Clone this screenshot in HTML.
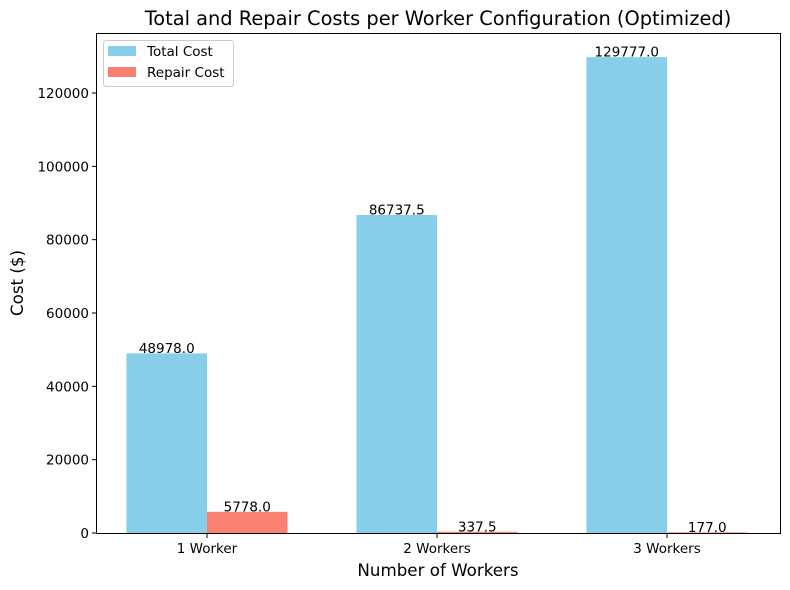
<!DOCTYPE html>
<html><head><meta charset="utf-8"><style>
body{margin:0;background:#fff}
svg{display:block;font-family:"DejaVu Sans","Liberation Sans",sans-serif}
</style></head><body>
<svg id="chart" width="790" height="590">
<text x="438" y="25" font-size="19.4" text-anchor="middle">Total and Repair Costs per Worker Configuration (Optimized)</text>
<text x="438" y="576" font-size="16.7" text-anchor="middle">Number of Workers</text>
<text transform="translate(23,283) rotate(-90)" font-size="16.7" text-anchor="middle">Cost ($)</text>
<g id="marks"></g>
<rect x="96.5" y="33.5" width="684" height="500" fill="none" stroke="#000" stroke-width="1"/>
<g>
<rect x="103.5" y="40.5" width="130" height="46" rx="3" fill="#fff" stroke="#ccc"/>
<rect x="108" y="46" width="28" height="10" fill="#87CEEB"/>
<text x="147" y="56" font-size="13.5">Total Cost</text>
<rect x="108" y="67" width="28" height="10" fill="#FA8072"/>
<text x="147" y="77" font-size="13.5">Repair Cost</text>
</g>
</svg>
<script>
const categories=["1 Worker","2 Workers","3 Workers"];
const totalCost=[48978.0,86737.5,129777.0];
const repairCost=[5778.0,337.5,177.0];
const yTicks=[0,20000,40000,60000,80000,100000,120000];
const NS="http://www.w3.org/2000/svg";
const g=document.getElementById("marks");
const y=v=>533-v*440/120000;
const x=i=>207+230*i;
const bw=80.5;
function mk(t,a){const e=document.createElementNS(NS,t);for(const k in a)e.setAttribute(k,a[k]);g.appendChild(e);return e;}
yTicks.forEach(v=>{
 const l=mk("line",{x1:92,x2:96.5,y1:y(v),y2:y(v),stroke:"#000"});
 
 
 const t=mk("text",{x:89,y:y(v)+5,"font-size":13.5,"text-anchor":"end"});t.textContent=v;
 
 
});
categories.forEach((c,i)=>{
 const l=mk("line",{x1:x(i),x2:x(i),y1:533.5,y2:538,stroke:"#000"});
 
 
 const t=mk("text",{x:x(i),y:553,"font-size":13.5,"text-anchor":"middle"});t.textContent=c;
 
 
 [[totalCost,"#87CEEB",-bw,"bar-total"],[repairCost,"#FA8072",0,"bar-repair"]].forEach(([arr,col,off,nm])=>{
  const v=arr[i];
  const r=mk("rect",{x:x(i)+off,y:y(v),width:bw,height:533-y(v),fill:col});
  
  
  const lb=mk("text",{x:x(i)+off+bw/2,y:y(v)-0.5,"font-size":13.5,"text-anchor":"middle"});
  lb.textContent=v.toFixed(1);
  
  
 });
});
</script>
</body></html>
